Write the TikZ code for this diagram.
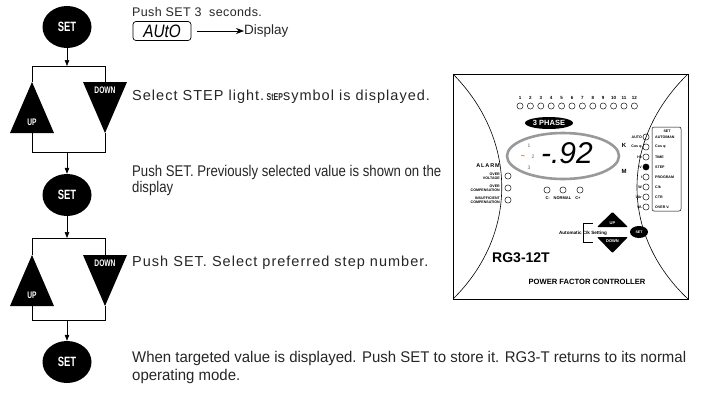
\documentclass[tikz,border=0pt]{standalone}
\usepackage{fontspec}
\setmainfont{Liberation Sans}
\newfontfamily\condA[FakeStretch=0.85]{Liberation Sans}
\newfontfamily\condB[FakeStretch=0.965]{Liberation Sans}
\newfontfamily\narrowb[FakeStretch=0.7]{Liberation Sans}
\newfontfamily\spaced[LetterSpace=3]{Liberation Sans}
\newfontfamily\spacedw[LetterSpace=7]{Liberation Sans}
\usetikzlibrary{arrows.meta,shapes.geometric}
\begin{document}
\begin{tikzpicture}[x=1pt,y=-1pt,
  setnode/.style={ellipse,fill=black,text=white,minimum width=49pt,minimum height=42pt,inner sep=0pt,font=\narrowb\bfseries\fontsize{13.5}{13.5}\selectfont},
  flow/.style={-{Triangle[length=6pt,width=4.5pt]},line width=0.6pt},
  wire/.style={line width=0.6pt},
  trilabel/.style={text=white,inner sep=0pt,font=\narrowb\bfseries\fontsize{9.5}{9.5}\selectfont},
  spacedtxt/.style={anchor=west,inner sep=0pt,text=black!85,font=\spacedw\fontsize{14.5}{16}\selectfont},
  condtxtA/.style={anchor=west,inner sep=0pt,text=black!85,align=left,font=\condA\fontsize{15.5}{16}\selectfont},
  condtxtB/.style={anchor=west,inner sep=0pt,text=black!85,align=left,font=\condB\fontsize{15.5}{18}\selectfont},
  led/.style={circle,draw,line width=0.45pt,minimum size=6.2pt,inner sep=0pt},
  tiny/.style={inner sep=0pt,font=\bfseries\fontsize{3.6}{3.8}\selectfont,align=right},
  boxitem/.style={inner sep=0pt,anchor=west,font=\bfseries\fontsize{3.6}{3.8}\selectfont}]
\useasboundingbox (0,0) rectangle (702,397);
% ---------------- flow chart ----------------
\node[setnode] (set1) at (67,27) {SET};
\coordinate (s1) at (67,66);
\coordinate (j1l) at (32,66);
\coordinate (j1r) at (105,66);
\coordinate (u1apex) at (32,82);
\coordinate (d1top) at (105,82);
\coordinate (u1base) at (32,133);
\coordinate (d1apex) at (105,133);
\coordinate (k1l) at (32,152);
\coordinate (k1r) at (105,152);
\coordinate (m1) at (67,152);
\fill (u1apex) -- (10,133) -- (54,133) -- cycle;
\fill (83,82) -- (127,82) -- (d1apex) -- cycle;
\node[trilabel] (up1) at (32,122) {UP};
\node[trilabel] (dn1) at (105,90) {DOWN};
\draw[flow] (set1) -- (s1);
\draw[wire] (u1apex) -- (j1l) -- (j1r) -- (d1top);
\draw[wire] (u1base) -- (k1l) -- (k1r) -- (d1apex);
\node[setnode] (set2) at (67,195) {SET};
\draw[flow] (m1) -- (set2);
\coordinate (s2) at (67,238);
\coordinate (j2l) at (32,238);
\coordinate (j2r) at (105,238);
\coordinate (u2apex) at (32,255);
\coordinate (d2top) at (105,255);
\coordinate (u2base) at (32,306);
\coordinate (d2apex) at (105,306);
\coordinate (k2l) at (32,320);
\coordinate (k2r) at (105,320);
\coordinate (m2) at (67,320);
\fill (u2apex) -- (10,306) -- (54,306) -- cycle;
\fill (83,255) -- (127,255) -- (d2apex) -- cycle;
\node[trilabel] (up2) at (32,295) {UP};
\node[trilabel] (dn2) at (105,263) {DOWN};
\draw[flow] (set2) -- (s2);
\draw[wire] (u2apex) -- (j2l) -- (j2r) -- (d2top);
\draw[wire] (u2base) -- (k2l) -- (k2r) -- (d2apex);
\node[setnode] (set3) at (67,362) {SET};
\draw[flow] (m2) -- (set3);
% ---------------- texts ----------------
\node[anchor=west,inner sep=0pt,text=black!85,font=\spaced\fontsize{12.5}{14}\selectfont] (t1) at (132,12) {Push SET 3 \ seconds.};
\node[draw,rounded corners=3pt,line width=0.7pt,minimum width=58pt,minimum height=19pt,inner sep=0pt,font=\condA\itshape\fontsize{18}{18}\selectfont] (auto) at (162,31) {AUtO};
\node[anchor=west,inner sep=0pt,text=black!85,font=\fontsize{13.5}{14}\selectfont] (disp) at (244,31) {Display};
\draw[-{Stealth[length=8pt,width=6pt]},line width=0.7pt] (auto.east) ++(6,0) coordinate (a0) -- (disp.west);
\node[spacedtxt] (t2) at (132,97) {Select STEP light.\,{\narrowb\bfseries\fontsize{10}{10}\selectfont StEP}symbol is displayed.};
\node[condtxtA] (t3) at (132,180) {Push SET. Previously selected value is shown on the\\display};
\node[spacedtxt] (t4) at (132,263) {Push SET. Select preferred step number.};
\node[condtxtB] (t5) at (132,367) {When targeted value is displayed. Push SET to store it. RG3-T returns to its normal\\operating mode.};
% ---------------- panel ----------------
\draw[line width=0.8pt] (453,74) rectangle (688,299);
\draw[line width=0.6pt] (453,74) .. controls (518,140) and (518,235) .. (453,299);
\draw[line width=0.6pt] (688,74) .. controls (620,140) and (620,235) .. (688,299);
\foreach \i in {1,...,12} {
  \node[inner sep=0pt,font=\bfseries\fontsize{4.5}{4.5}\selectfont] (n\i) at ({520+(\i-1)*10.4},98) {\i};
  \node[led] (l\i) at ({520+(\i-1)*10.4},106) {};
}
\node[ellipse,fill=black,text=white,minimum width=48pt,minimum height=12pt,inner sep=0pt,font=\bfseries\fontsize{7.5}{7.5}\selectfont] (phase) at (549,123) {3 PHASE};
\node[ellipse,draw=black!40,line width=2.6pt,minimum width=112pt,minimum height=46pt,inner sep=0pt] (screen) at (563,156) {};
\node[inner sep=0pt,font=\itshape\fontsize{30}{30}\selectfont] (val) at (567,153) {-.92};
\node[inner sep=0pt,text=black!60,font=\fontsize{5}{5}\selectfont] (p1) at (529,146) {1};
\node[inner sep=0pt,text=black!60,font=\fontsize{5}{5}\selectfont] (p2) at (533,157) {2};
\node[inner sep=0pt,text=black!60,font=\fontsize{5}{5}\selectfont] (p3) at (529,168) {3};
\node[inner sep=0pt,text=orange!80!black,font=\bfseries\fontsize{7}{7}\selectfont] (tilde) at (523,157) {\textasciitilde};
\node[inner sep=0pt,font=\bfseries\fontsize{6}{6}\selectfont] (kk) at (624,145) {K};
\node[inner sep=0pt,font=\bfseries\fontsize{6}{6}\selectfont] (mm) at (624,171) {M};
\node[inner sep=0pt,anchor=east,font=\bfseries\fontsize{5.5}{5.5}\selectfont] (alarm) at (500,166) {A\,L\,A\,R\,M};
\node[tiny,anchor=east] (ov) at (500,176) {OVER\\VOLTAGE};
\node[tiny,anchor=east] (oc) at (500,188) {OVER\\COMPENSATION};
\node[tiny,anchor=east] (ic) at (500,200) {INSUFFICIENT\\COMPENSATION};
\node[led] (lov) at (508,176) {};
\node[led] (loc) at (508,188) {};
\node[led] (lic) at (508,200) {};
\node[led] (c1) at (547,190) {};
\node[led] (c2) at (563,190) {};
\node[led] (c3) at (580,190) {};
\node[inner sep=0pt,font=\bfseries\fontsize{4}{4}\selectfont] (normal) at (563,198) {C-\quad NORMAL\quad C+};
\foreach \lab/\itm [count=\k] in {AUTO/{AUTO/MAN},Cos φ/Cos φ,Hz/TIME,V/STEP,I/PROGRAM,W/{C/k},VAr/CTR,VA/OVER V.} {
  \node[led] (r\k) at (646,{127+\k*10}) {};
  \node[tiny,anchor=east] (rl\k) at (642,{127+\k*10}) {\lab};
  \node[boxitem] (bi\k) at (655,{127+\k*10}) {\itm};
}
\fill (r4) circle (3.1pt);
\draw[line width=0.5pt,rounded corners=2pt] (652,127) rectangle (681,211);
\node[inner sep=0pt,font=\bfseries\fontsize{3.6}{3.6}\selectfont] (sethead) at (667,131) {SET};
\fill[rounded corners=1pt] (597,227) -- (612.5,212) -- (628,227) -- cycle;
\fill[rounded corners=1pt] (597,237) -- (628,237) -- (612.5,253) -- cycle;
\node[inner sep=0pt,text=white,font=\bfseries\fontsize{4}{4}\selectfont] (upb) at (612.5,223) {UP};
\node[inner sep=0pt,text=white,font=\bfseries\fontsize{4}{4}\selectfont] (dnb) at (612.5,241) {DOWN};
\draw[line width=0.5pt] (593,223) -- (583,223) -- (583,242) -- (593,242);
\node[inner sep=0pt,font=\bfseries\fontsize{4.6}{4.6}\selectfont] (autoset) at (583,233) {Automatic C/k Setting};
\node[ellipse,fill=black,text=white,minimum width=18pt,minimum height=12pt,inner sep=0pt,font=\bfseries\fontsize{3.6}{3.6}\selectfont] (setb) at (639,232) {SET};
\node[inner sep=0pt,font=\bfseries\fontsize{14}{14}\selectfont] (model) at (521,258) {RG3-12T};
\node[inner sep=0pt,font=\bfseries\fontsize{7.6}{7.6}\selectfont] (pfc) at (587,282) {POWER FACTOR CONTROLLER};
\end{tikzpicture}
\end{document}
